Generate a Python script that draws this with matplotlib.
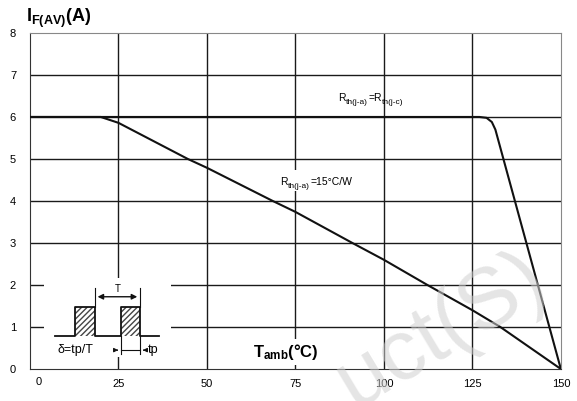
import matplotlib
matplotlib.use("Agg")
import matplotlib.pyplot as plt
import matplotlib.transforms as mtransforms
from matplotlib.patches import Rectangle
import numpy as np

plt.rcParams['font.family'] = ['Liberation Sans', 'DejaVu Sans']
plt.rcParams['mathtext.fontset'] = 'custom'
plt.rcParams['mathtext.rm'] = 'Liberation Sans'
plt.rcParams['mathtext.it'] = 'Liberation Sans'
plt.rcParams['mathtext.bf'] = 'Liberation Sans:bold'

# Curva Rth(j-a)=Rth(j-c)
tc_x = [0, 127, 129, 130.5, 131.5, 150]
tc_y = [6, 6, 5.98, 5.88, 5.7, 0]

# Curva Rth(j-a)=15 C/W
ta_x = [0, 20, 25, 44.6, 50, 68.6, 75, 91.1, 100, 112.3, 125, 132.9, 150]
ta_y = [6, 6, 5.86, 5, 4.79, 4, 3.74, 3, 2.6, 2, 1.4, 1, 0]

xticks = [0, 25, 50, 75, 100, 125, 150]
xlabels = ['', '25', '50', '75', '100', '125', '150']
yticks = [0, 1, 2, 3, 4, 5, 6, 7, 8]

fig = plt.figure(figsize=(5.77, 4.01), dpi=100)
ax = fig.add_axes([0.052, 0.0798, 0.92, 0.838])
ax.set_xlim(0, 150)
ax.set_ylim(0, 8)
renderer = fig.canvas.get_renderer()

# grade
for xv in xticks[1:-1]:
    ax.axvline(xv, color='#1a1a1a', lw=1.0, zorder=1)
for yv in yticks[1:-1]:
    ax.axhline(yv, color='#1a1a1a', lw=1.0, zorder=1)

for s in ['top', 'right']:
    ax.spines[s].set_color('#888888')
for s in ['left', 'bottom']:
    ax.spines[s].set_color('#333333')

ax.set_xticks(xticks)
ax.set_xticklabels(xlabels)
ax.set_yticks(yticks)
ax.tick_params(length=0, labelsize=8)
ax.tick_params(axis='x', pad=7)
ax.tick_params(axis='y', pad=10)
ax.text(2.5, -0.2, '0', fontsize=8, ha='center', va='top')

ax.plot(tc_x, tc_y, color='#111111', lw=1.5, zorder=3)
ax.plot(ta_x, ta_y, color='#111111', lw=1.5, zorder=3)


# Escreve um texto com partes em subscrito, peca por peca
def texto_sub(x, y, partes, tam):
    dx = 0.0
    for txt, sub in partes:
        fs = tam * 0.8 if sub else tam
        dy = -2.0 if sub else 0.0
        tr = mtransforms.offset_copy(ax.transData, fig=fig, x=dx, y=dy, units='points')
        t = ax.text(x, y, txt, fontsize=fs, ha='left', va='baseline', transform=tr, zorder=4)
        dx += t.get_window_extent(renderer).width * 72.0 / fig.dpi + 0.2


texto_sub(87.2, 6.38, [('R', False), ('th(j-a)', True), ('=R', False), ('th(j-c)', True)], 7.5)
ax.add_patch(Rectangle((70.0, 4.24), 23.5, 0.5, fc='white', ec='none', zorder=2))
texto_sub(70.8, 4.38, [('R', False), ('th(j-a)', True), ('=15°C/W', False)], 7.5)

ax.text(63, 0.4, r'$\mathbf{T_{amb}(°C)}$', fontsize=12, ha='left', va='center', zorder=4,
        bbox=dict(fc='white', ec='none', pad=2))
fig.text(0.045, 0.955, r'$\mathbf{I_{F(AV)}(A)}$', fontsize=13, ha='left', va='center')

# desenho do pulso
ax.add_patch(Rectangle((3.95, 0.29), 35.9, 1.88, fc='white', ec='none', zorder=2))
base = 0.79
topo = 1.48
ax.plot([7.1, 12.8, 12.8, 18.3, 18.3, 25.7, 25.7, 31.1, 31.1, 36.5],
        [base, base, topo, topo, base, base, topo, topo, base, base], color='#111111', lw=1.3, zorder=4)
for x0, x1 in [(12.8, 18.3), (25.7, 31.1)]:
    ax.add_patch(Rectangle((x0, base), x1 - x0, topo - base, fc='white', ec='#444444', lw=0,
                           hatch='//////', zorder=3))
ax.plot([18.3, 18.3], [topo, 1.92], color='#111111', lw=0.8, zorder=4)
ax.plot([31.1, 31.1], [topo, 1.92], color='#111111', lw=0.8, zorder=4)
ax.annotate('', xy=(18.3, 1.72), xytext=(31.1, 1.72),
            arrowprops=dict(arrowstyle='<|-|>', color='#111111', lw=1.0, mutation_scale=8), zorder=4)
ax.text(24.7, 1.9, 'T', fontsize=7, ha='center', va='center', zorder=4)
ax.plot([25.7, 25.7], [base, 0.35], color='#111111', lw=0.8, zorder=4)
ax.plot([31.1, 31.1], [base, 0.35], color='#111111', lw=0.8, zorder=4)
ax.plot([25.7, 31.1], [0.45, 0.45], color='#111111', lw=0.8, zorder=4)
ax.annotate('', xy=(25.7, 0.45), xytext=(23.8, 0.45),
            arrowprops=dict(arrowstyle='-|>', color='#111111', lw=0.8, mutation_scale=6), zorder=4)
ax.annotate('', xy=(31.1, 0.45), xytext=(33.0, 0.45),
            arrowprops=dict(arrowstyle='-|>', color='#111111', lw=0.8, mutation_scale=6), zorder=4)
ax.text(33.3, 0.45, 'tp', fontsize=9, ha='left', va='center', zorder=4)
ax.text(7.7, 0.45, 'δ=tp/T', fontsize=9, ha='left', va='center', zorder=4)

# marca d'agua
fig.text(0.765, 0.175, 'uct(S)', fontsize=62, color='#d0d0d0', alpha=0.55, rotation=31,
         ha='center', va='center', zorder=10)

fig.savefig('out.png', dpi=100)
